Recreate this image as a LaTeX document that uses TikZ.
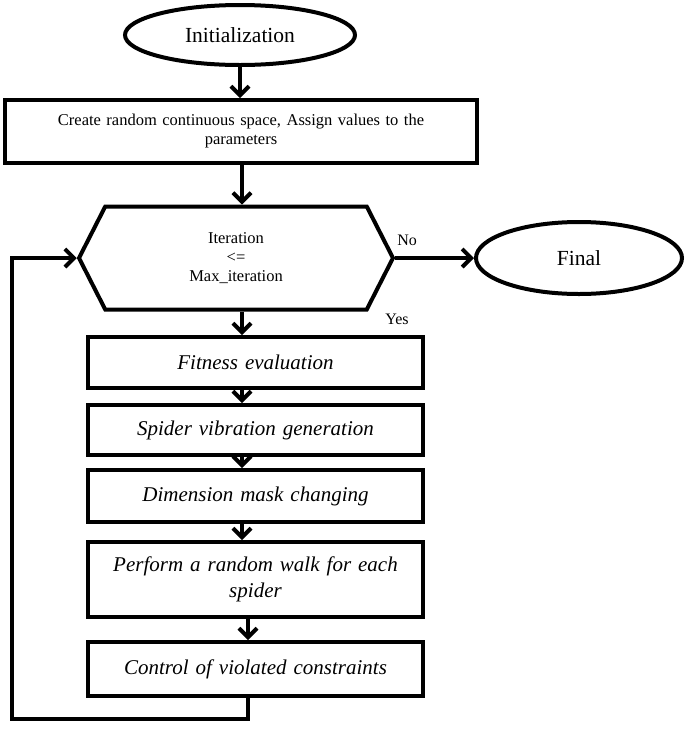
\documentclass[tikz,border=0pt]{standalone}
\usepackage{fontspec}
\setmainfont{Liberation Serif}
\usetikzlibrary{shapes,arrows.meta,positioning}
\tikzset{
    terminal/.style = {ellipse, draw, line width=4pt, minimum width=230pt,
        minimum height=60pt, font=\fontsize{21.5}{25}\selectfont},
    block/.style = {rectangle, draw, line width=4pt, minimum width=335pt,
        text width=320pt, align=center, font=\fontsize{21}{26}\selectfont\itshape},
    wideblock/.style = {rectangle, draw, line width=4pt, minimum width=472pt,
        minimum height=63pt, text width=450pt, align=center, font=\fontsize{16.5}{19}\selectfont},
    decision/.style = {signal, signal to=west and east, signal pointer angle=126,
        draw, line width=4pt, minimum width=314pt, minimum height=103pt,
        align=center, font=\fontsize{16.5}{19}\selectfont},
    line/.style = {draw, line width=4pt, -{Straight Barb[length=9pt,width=18pt]}},
    note/.style = {font=\fontsize{16}{19}\selectfont}
}

\begin{document}
\begin{tikzpicture}[x=1pt, y=1pt, node distance=1cm, auto]
    \useasboundingbox (0,0) rectangle (685,-732);
    % Place nodes

    \node [terminal] (init) at (240,-35) {Initialization};
    \node [wideblock] (create) at (241,-131.5) {Create random continuous space, Assign values to the\\ parameters};
    \node [decision] (iter) at (236,-258) {Iteration\\<=\\Max\_iteration};
    \node [terminal, minimum width=206pt, minimum height=72pt] (final) at (579,-258) {Final};

    \node [block, minimum height=51pt] (fitness) at (255.5,-362.5) {Fitness evaluation};
    \node [block, below of=fitness, node distance=67.5pt, minimum height=50pt] (vibration) {Spider vibration generation};
    \node [block, below of=vibration, node distance=66pt, minimum height=52pt] (mask) {Dimension mask changing};
    \node [block, below of=mask, node distance=83.5pt, minimum height=75pt] (walk) {Perform a random walk for each\\ spider};
    \node [block, below of=walk, node distance=89.5pt, minimum height=54pt] (control) {Control of violated constraints};

    \node [note] (yes) at (397,-319) {Yes};

    % Draw edges
    \coordinate (spine) at (242,0);
    \coordinate (spine2) at (248,0);
    \coordinate (loop) at (12,-719);

    \path [line] (init.south) -- (init.south |- create.north);
    \path [line] (create.south -| spine) -- (iter.north -| spine);
    \path [line] (iter.east) -- (final.west) node [note, pos=0.15, above=7pt] {No};
    \path [line] (iter.south -| spine) -- (fitness.north -| spine);
    \path [line] (fitness.south -| spine) -- (vibration.north -| spine);
    \path [line] (vibration.south -| spine) -- (mask.north -| spine);
    \path [line] (mask.south -| spine) -- (walk.north -| spine);
    \path [line] (walk.south -| spine2) -- (control.north -| spine2);
    \path [line] (control.south -| spine2) |- (loop) |- (iter.west);

\end{tikzpicture}
\end{document}
